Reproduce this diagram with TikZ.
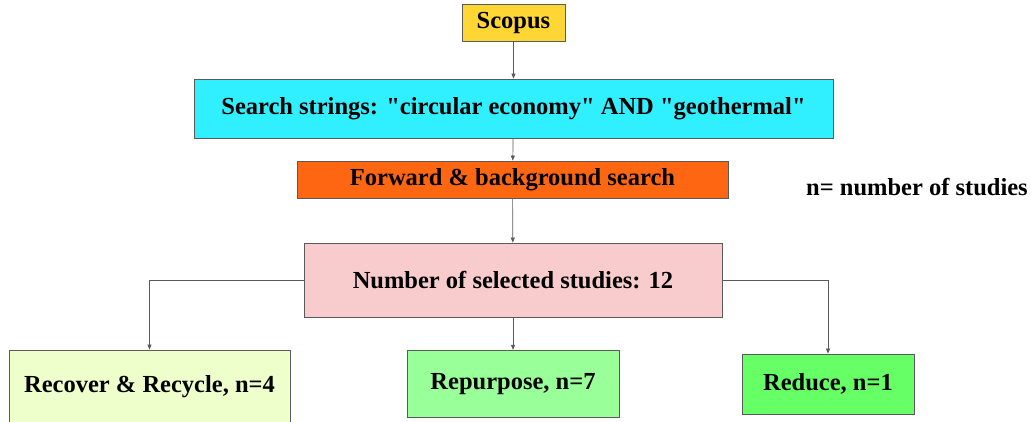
\documentclass[tikz,border=0pt]{standalone}
\usepackage{fontspec}
\setmainfont{Liberation Serif}[Ligatures=TeXOff]
\usepackage{xcolor}
\usepackage{tikz}
\usetikzlibrary{arrows.meta, positioning}

\definecolor{scopusfill}{RGB}{255,214,51}
\definecolor{searchfill}{RGB}{48,240,255}
\definecolor{forwardfill}{RGB}{255,102,17}
\definecolor{selectfill}{RGB}{248,204,204}
\definecolor{recoverfill}{RGB}{238,255,204}
\definecolor{repurposefill}{RGB}{153,255,153}
\definecolor{reducefill}{RGB}{102,255,102}
\definecolor{edgegray}{RGB}{90,90,90}

\begin{document}
\begin{tikzpicture}[x=1pt,y=1pt,
                    flow/.style={-{Triangle[length=5pt,width=4pt]},draw=edgegray,line width=0.7pt},
                    main node/.style={rectangle,draw=edgegray,line width=0.8pt,inner sep=0pt,
                                      font=\fontsize{24.5}{28}\selectfont\bfseries}]
\useasboundingbox (0,0) rectangle (1031,421);

\node[main node,fill=scopusfill,minimum width=103,minimum height=37] (Scopus) at (513.5,398.5) {Scopus};
\node[main node,fill=searchfill,minimum width=639,minimum height=59] (Search) at (513.5,312.5) {Search strings: "circular economy" AND "geothermal"};
\node[main node,fill=forwardfill,minimum width=431,minimum height=37] (Forward) at (512.5,241.5) {Forward \& background search};
\node[main node,fill=selectfill,minimum width=418,minimum height=74] (Selected) at (513,141) {Number of selected studies: 12};

% outcome boxes
\node[main node,fill=recoverfill,minimum width=281,minimum height=74] (Recover) at (149.5,34) {Recover \& Recycle, n=4};
\node[main node,fill=repurposefill,minimum width=212,minimum height=67] (Repurpose) at (513,37.25) {Repurpose, n=7};
\node[main node,fill=reducefill,minimum width=172,minimum height=60] (Reduce) at (828,37) {Reduce, n=1};

\node[font=\fontsize{24.5}{28}\selectfont\bfseries] (Legend) at (917,234) {n= number of studies};

\draw[flow] (Scopus) -- (Search);
\draw[flow] (Search) -- (Forward);
\draw[flow] (Forward) -- (Selected);
\draw[flow] (Selected) -- (Repurpose);
\draw[flow] (Selected.west) -| (Recover.north);
\draw[flow] (Selected.east) -| (Reduce.north);
\end{tikzpicture}
\end{document}
